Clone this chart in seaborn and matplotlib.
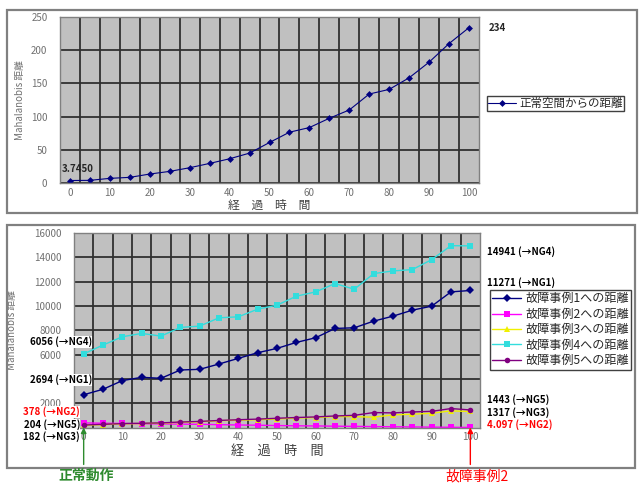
import numpy as np
import pandas as pd
import matplotlib.pyplot as plt
import matplotlib.patches as mpatches
import seaborn as sns

# elapsed time (categories 0, 5, ..., 100)
t = [0, 5, 10, 15, 20, 25, 30, 35, 40, 45, 50, 55, 60, 65, 70, 75, 80, 85, 90, 95, 100]

# distance from normal space (top chart)
normal = [3.745, 4, 7, 8.5, 13.5, 17.5, 23, 29.5, 36.5, 45, 61, 76.5, 83.5,
          97.5, 110, 134, 141, 158.5, 182, 210, 234]

# distances to each failure case (bottom chart)
ng1 = [2694, 3145, 3856, 4129, 4047, 4731, 4785, 5223, 5688, 6153, 6508, 7000,
       7383, 8149, 8203, 8750, 9160, 9653, 9981, 11157, 11271]
ng2 = [378, 352, 335, 310, 301, 276, 262, 233, 205, 188, 162, 140, 128, 109,
       93, 75, 61, 44, 30, 15, 4.097]
ng3 = [182, 235, 300, 330, 355, 430, 470, 560, 600, 640, 700, 780, 820, 900,
       890, 850, 1040, 1090, 1175, 1367, 1317]
ng4 = [6056, 6781, 7465, 7739, 7520, 8231, 8340, 9024, 9106, 9735, 10063,
       10801, 11157, 11840, 11375, 12660, 12880, 12990, 13810, 14958, 14941]
ng5 = [204, 260, 320, 350, 380, 450, 500, 580, 640, 690, 760, 820, 870, 950,
       1000, 1230, 1200, 1280, 1330, 1558, 1443]

names = ['故障事例1への距離', '故障事例2への距離', '故障事例3への距離',
         '故障事例4への距離', '故障事例5への距離']
colors = ['#000080', '#ff00ff', '#f0f000', '#33dddd', '#800080']
marks = ['D', 's', '^', 's', 'o']

sns.set_theme(style='white')
plt.rcParams['font.family'] = ['Noto Sans CJK JP', 'DejaVu Sans']

W, H = 640, 484
fig = plt.figure(figsize=(6.4, 4.84), dpi=100)


def px(x0, y0, x1, y1):
    # pixel box (top-left origin) -> figure fraction rect
    return [x0 / W, 1 - y1 / H, (x1 - x0) / W, (y1 - y0) / H]


# outer frames
for box in [(7, 10, 637, 213), (7, 225, 635, 468)]:
    r = px(*box)
    fig.patches.append(mpatches.Rectangle((r[0], r[1]), r[2], r[3], transform=fig.transFigure,
                                          fill=False, edgecolor='#808080', lw=1.6))


def style_axes(ax):
    ax.set_facecolor('#c0c0c0')
    ax.set_xlim(-2.5, 102.5)
    ax.set_xticks(range(0, 101, 10))
    ax.set_xticks(np.arange(2.5, 100, 5), minor=True)
    ax.grid(which='minor', axis='x', color='#303030', lw=1.3)
    ax.grid(which='major', axis='y', color='#303030', lw=1.3)
    ax.grid(which='major', axis='x', visible=False)
    ax.tick_params(which='both', length=0, labelsize=7, labelcolor='#707070')
    ax.tick_params(axis='y', pad=9)
    for s in ax.spines.values():
        s.set_color('#808080')
        s.set_linewidth(1)


# top chart
ax1 = fig.add_axes(px(60, 17, 479, 183))
top_df = pd.DataFrame({'t': t, 'd': normal})
sns.lineplot(data=top_df, x='t', y='d', color='#000080', marker='D', markersize=3.5,
             markeredgewidth=0, lw=0.8, label='正常空間からの距離', ax=ax1)
style_axes(ax1)
ax1.set_ylim(0, 250)
ax1.set_yticks(range(0, 251, 50))
ax1.set_xlabel('経　過　時　間', fontsize=8.5, color='#404040', labelpad=1)
ax1.set_ylabel('Mahalanobis 距離', fontsize=7, color='#707070', labelpad=4)
ax1.legend(loc='upper left', bbox_to_anchor=(487 / W, 1 - 96 / H), bbox_transform=fig.transFigure,
           fontsize=8.3, frameon=True, fancybox=False, edgecolor='#404040', framealpha=1,
           borderpad=0.1, handlelength=2.4, handletextpad=0.3, borderaxespad=0)
ax1.annotate('3.7450', xy=(t[0], normal[0]), xytext=(-6, 5), textcoords='offset points',
             fontsize=7, fontweight='bold', ha='left', va='bottom')
ax1.annotate(f'{normal[-1]:.0f}', xy=(1.0, normal[-1]), xycoords=('axes fraction', 'data'),
             xytext=(7, 0), textcoords='offset points', fontsize=7, fontweight='bold',
             ha='left', va='center')

# bottom chart
ax2 = fig.add_axes(px(74, 233, 480, 427.5))
long_df = pd.concat([pd.DataFrame({'t': t, 'd': v, 'series': n})
                     for v, n in zip([ng1, ng2, ng3, ng4, ng5], names)])
sns.lineplot(data=long_df, x='t', y='d', hue='series', style='series', palette=colors,
             markers=marks, dashes=False, markersize=4, markeredgewidth=0, lw=1, ax=ax2)
style_axes(ax2)
ax2.set_ylim(0, 16000)
yt = list(range(2000, 16001, 2000))
ax2.set_yticks(yt)
# the 4000 label sits under the "2694" data label in the original
ax2.set_yticklabels(['' if v == 4000 else str(v) for v in yt])
ax2.set_xlabel('経　過　時　間', fontsize=9.5, color='#404040', labelpad=2)
ax2.set_ylabel('Mahalanobis 距離', fontsize=7, color='#707070', labelpad=12)
ax2.legend(loc='upper left', bbox_to_anchor=(490 / W, 1 - 290 / H), bbox_transform=fig.transFigure,
           fontsize=8.7, frameon=True, fancybox=False, edgecolor='#404040', framealpha=1,
           borderpad=0.2, labelspacing=0.2, handlelength=2.4, handletextpad=0.3,
           borderaxespad=0, title=None)

# value labels at start and end (opaque, they cover the tick labels as in the original)
bg = dict(facecolor='white', edgecolor='none', pad=0.3)
left_labels = [('6056 (→NG4)', 342, 'black', 92), ('2694 (→NG1)', 380, 'black', 92),
               ('378 (→NG2)', 412, 'red', 80), ('204 (→NG5)', 425, 'black', 80),
               ('182 (→NG3)', 437, 'black', 80)]
for s, y, c, xr in left_labels:
    fig.text(xr / W, 1 - y / H, s, color=c, fontsize=7, fontweight='bold', ha='right',
             va='center', bbox=bg, zorder=5)

right_labels = [('14941 (→NG4)', 252, 'black'), ('11271 (→NG1)', 283, 'black'),
                ('1443 (→NG5)', 400, 'black'), ('1317 (→NG3)', 413, 'black'),
                ('4.097 (→NG2)', 425, 'red')]
for s, y, c in right_labels:
    fig.text(487 / W, 1 - y / H, s, color=c, fontsize=7, fontweight='bold', ha='left', va='center')

# arrows to normal / failure states
arrow = dict(arrowstyle='-|>', lw=1, shrinkA=0, shrinkB=0, mutation_scale=8)
ax2.annotate('', xy=(t[0], 0), xytext=(t[0], -0.19), textcoords=('data', 'axes fraction'),
             arrowprops=dict(arrow, color='#2e8b2e'), annotation_clip=False)
ax2.annotate('', xy=(t[-1], 0), xytext=(t[-1], -0.19), textcoords=('data', 'axes fraction'),
             arrowprops=dict(arrow, color='red'), annotation_clip=False)
fig.text(86 / W, 1 - 476 / H, '正常動作', fontsize=10, color='#2e8b2e', fontweight='bold',
         ha='center', va='center')
fig.text(477 / W, 1 - 476 / H, '故障事例2', fontsize=10, color='red', ha='center', va='center')

fig.savefig('out.png', dpi=100)
